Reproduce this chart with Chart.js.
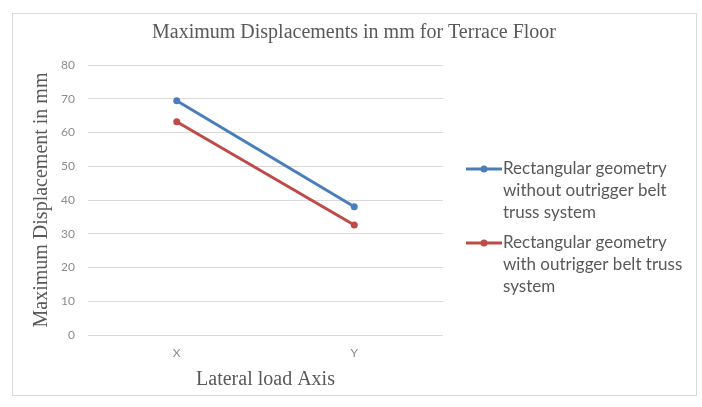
<!DOCTYPE html>
<html>
<head>
<meta charset="utf-8">
<script src="https://cdn.jsdelivr.net/npm/chart.js@4/dist/chart.umd.min.js"></script>
<style>
  html, body { margin: 0; padding: 0; background: #ffffff; }
  #wrap { width: 702px; height: 407px; position: relative; }
</style>
</head>
<body>
<div id="wrap"><canvas id="chart" width="702" height="407"></canvas></div>
<script>
// Lateral load directions on the x axis
const categories = ['X', 'Y'];

// Maximum displacement (mm) at terrace level
const withoutOutrigger = [69.4, 38.0];
const withOutrigger = [63.2, 32.6];

// Legend entries, wrapped onto lines
const seriesNames = [
  ['Rectangular geometry', 'without outrigger belt', 'truss system'],
  ['Rectangular geometry', 'with outrigger belt truss', 'system']
];

const yTicks = [0, 10, 20, 30, 40, 50, 60, 70, 80];

const chartTitle = 'Maximum Displacements in mm for Terrace Floor';
const yTitle = 'Maximum Displacement in mm';
const xTitle = 'Lateral load Axis';

const BLUE = '#4A7EBB';
const RED = '#BE4B48';
const TEXT = '#595959';

// Frame, title and the wrapped legend
const decorations = {
  id: 'decorations',
  beforeDraw(chart) {
    const ctx = chart.ctx;
    ctx.save();
    ctx.fillStyle = '#ffffff';
    ctx.fillRect(0, 0, chart.width, chart.height);
    ctx.strokeStyle = '#d9d9d9';
    ctx.lineWidth = 1;
    ctx.strokeRect(12.5, 13.5, 684, 382);
    ctx.restore();
  },
  afterDraw(chart) {
    const ctx = chart.ctx;
    ctx.save();
    ctx.fillStyle = TEXT;
    ctx.font = '20px "Liberation Serif", "Times New Roman", serif';
    ctx.textAlign = 'center';
    ctx.textBaseline = 'middle';
    ctx.fillText(chartTitle, 354, 33);

    const x0 = 466, lineLen = 36, textX = 503;
    let y = 169;
    chart.data.datasets.forEach((ds, i) => {
      const lines = seriesNames[i];
      ctx.strokeStyle = ds.borderColor;
      ctx.lineWidth = 3;
      ctx.beginPath();
      ctx.moveTo(x0, y);
      ctx.lineTo(x0 + lineLen, y);
      ctx.stroke();
      ctx.fillStyle = ds.backgroundColor;
      ctx.beginPath();
      ctx.arc(x0 + lineLen / 2, y, 3.5, 0, Math.PI * 2);
      ctx.fill();
      ctx.fillStyle = TEXT;
      ctx.font = '17px Lato, "Open Sans", sans-serif';
      ctx.textAlign = 'left';
      ctx.textBaseline = 'middle';
      lines.forEach((t, k) => ctx.fillText(t, textX, y + k * 22));
      y += lines.length * 22 + 8;
    });
    ctx.restore();
  }
};

new Chart(document.getElementById('chart'), {
  type: 'line',
  data: {
    labels: categories,
    datasets: [
      {
        label: seriesNames[0].join(' '),
        data: withoutOutrigger,
        borderColor: BLUE,
        backgroundColor: BLUE,
        borderWidth: 3,
        pointRadius: 3.5,
        pointBorderWidth: 0,
        tension: 0
      },
      {
        label: seriesNames[1].join(' '),
        data: withOutrigger,
        borderColor: RED,
        backgroundColor: RED,
        borderWidth: 3,
        pointRadius: 3.5,
        pointBorderWidth: 0,
        tension: 0
      }
    ]
  },
  options: {
    responsive: false,
    animation: false,
    layout: { padding: { top: 65, left: 12, right: 259, bottom: 12 } },
    plugins: {
      legend: { display: false },
      title: { display: false },
      tooltip: { enabled: false }
    },
    scales: {
      x: {
        offset: true,
        grid: { display: false, drawTicks: false },
        border: { display: false },
        ticks: {
          color: '#8c8c8c',
          font: { family: 'Lato, sans-serif', size: 12 },
          padding: 11
        },
        title: {
          display: true,
          text: xTitle,
          color: TEXT,
          font: { family: '"Liberation Serif", serif', size: 20 },
          padding: { top: 0, bottom: 3 }
        },
        afterFit(scale) { scale.height = 60; }
      },
      y: {
        min: 0,
        max: 80,
        afterBuildTicks(scale) { scale.ticks = yTicks.map(v => ({ value: v })); },
        grid: { color: '#d9d9d9', lineWidth: 1, drawTicks: false },
        border: { display: false },
        ticks: {
          color: '#8c8c8c',
          font: { family: 'Lato, sans-serif', size: 12 },
          padding: 13
        },
        title: {
          display: true,
          text: yTitle,
          color: TEXT,
          font: { family: '"Liberation Serif", serif', size: 20 },
          padding: { top: 18, bottom: 0 }
        },
        afterFit(scale) { scale.width = 76; }
      }
    }
  },
  plugins: [decorations]
});
</script>
</body>
</html>
